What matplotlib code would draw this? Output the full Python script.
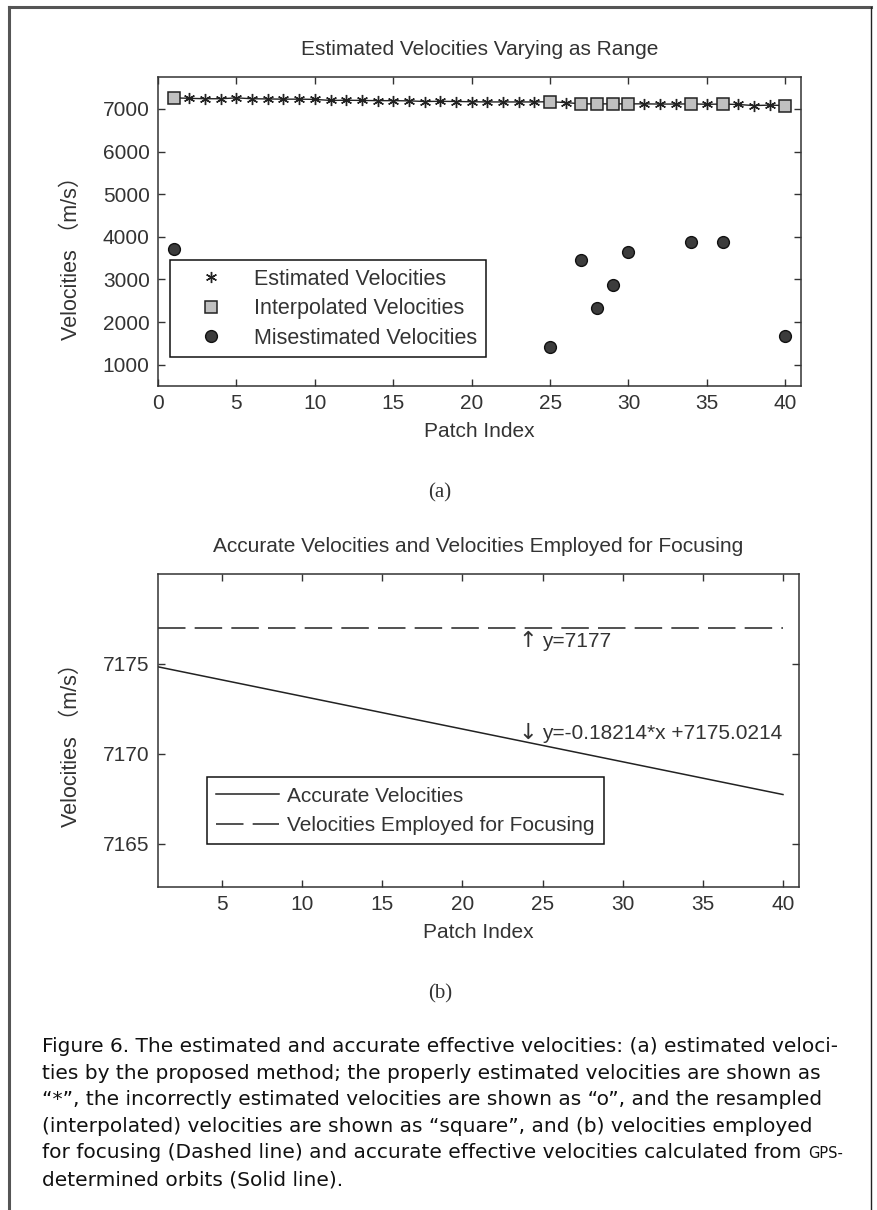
import numpy as np
import matplotlib.pyplot as plt
from matplotlib.lines import Line2D

plt.rcParams['font.family'] = ['Liberation Sans', 'Noto Sans CJK SC', 'DejaVu Sans']

# (a) estimated velocities per patch (after replacing wrong ones by interpolation)
patch = np.arange(1, 41)
velocities = [7260, 7250, 7240, 7240, 7260, 7240, 7235, 7230, 7230, 7225,
              7200, 7205, 7200, 7195, 7195, 7190, 7175, 7180, 7175, 7170,
              7165, 7165, 7165, 7165, 7170, 7150, 7120, 7120, 7120, 7120,
              7120, 7115, 7115, 7120, 7110, 7115, 7105, 7080, 7090, 7080]
interp_idx = [1, 25, 27, 28, 29, 30, 34, 36, 40]
mis_v = [3720, 1405, 3445, 2330, 2860, 3650, 3875, 3875, 1680]

# (b) accurate vs. focusing velocities
acc_x = [1, 40]
acc_v = [7174.84, 7167.74]
focus_x = [1, 40]
focus_v = [7177, 7177]

W, H = 878, 1210
fig = plt.figure(figsize=(W / 100, H / 100), dpi=100)


def fx(px):
    return px / W


def fy(py):
    return 1 - py / H


def style_axes(ax):
    for s in ax.spines.values():
        s.set_color('#333333')
        s.set_linewidth(1.1)
    ax.tick_params(direction='in', top=True, right=True, length=5, width=1,
                   labelsize=15, colors='#333333', pad=6)


# ---- panel (a)
ax1 = fig.add_axes([fx(158), fy(386), fx(801 - 158), (386 - 77) / H])
style_axes(ax1)
est_idx = [i for i in patch if i not in interp_idx]
vel = dict(zip(patch, velocities))
ax1.plot(patch, velocities, '-', color='#222222', lw=1.0)
ax1.plot(est_idx, [vel[i] for i in est_idx], ls='none', marker=(6, 2, 0),
         ms=8, mec='#222222', mew=1.0, label='Estimated Velocities')
ax1.plot(interp_idx, [vel[i] for i in interp_idx], ls='none', marker='s',
         ms=8, mfc='#c0c0c0', mec='#222222', mew=1.1, label='Interpolated Velocities')
ax1.plot(interp_idx, mis_v, ls='none', marker='o', ms=8.5, mfc='#3c3c3c',
         mec='#111111', mew=1.0, label='Misestimated Velocities')
ax1.set_xlim(0, 41)
ax1.set_ylim(500, 7750)
ax1.set_xticks(range(0, 41, 5))
ax1.set_yticks(range(1000, 7001, 1000))
ax1.set_title('Estimated Velocities Varying as Range', fontsize=15, color='#333333', pad=16)
ax1.set_xlabel('Patch Index', fontsize=15, color='#333333', labelpad=6)
ax1.set_ylabel('Velocities （m/s）', fontsize=15.5, color='#333333')
ax1.yaxis.set_label_coords(-0.118, 0.43)
leg1 = ax1.legend(loc='upper left', bbox_to_anchor=(0.0187, 0.408), fontsize=15.5,
                  frameon=True, fancybox=False, framealpha=1, edgecolor='#111111',
                  handlelength=3, handletextpad=0.5, borderpad=0.4,
                  labelspacing=0.4, borderaxespad=0)
leg1.get_frame().set_linewidth(1.1)
for t in leg1.get_texts():
    t.set_color('#333333')

fig.text(fx(440), fy(493), '(a)', ha='center', va='center', fontsize=15,
         family=['Liberation Serif', 'DejaVu Serif'], color='#333333')

# ---- panel (b)
ax2 = fig.add_axes([fx(158), fy(887), fx(799 - 158), (887 - 574) / H])
style_axes(ax2)
ax2.plot(acc_x, acc_v, '-', color='#222222', lw=1.1, label='Accurate Velocities')
ax2.plot(focus_x, focus_v, color='#222222', lw=1.1, dashes=(18, 6),
         label='Velocities Employed for Focusing')
ax2.set_xlim(1, 41)
ax2.set_ylim(7162.6, 7180)
ax2.set_xticks(range(5, 41, 5))
ax2.set_yticks([7165, 7170, 7175])
ax2.set_title('Accurate Velocities and Velocities Employed for Focusing', fontsize=15,
              color='#333333', pad=16)
ax2.set_xlabel('Patch Index', fontsize=15, color='#333333', labelpad=6)
ax2.set_ylabel('Velocities （m/s）', fontsize=15.5, color='#333333')
ax2.yaxis.set_label_coords(-0.118, 0.47)
for yv, label, arrow in [(7176.25, 'y=7177', '↑'),
                         (7171.15, 'y=-0.18214*x +7175.0214', '↓')]:
    ax2.text(24.1, yv, arrow, fontsize=16, va='center', ha='center',
             color='#333333', family=['DejaVu Sans'])
    ax2.text(24.95, yv, label, fontsize=15, va='center', ha='left',
             color='#333333')
leg2 = ax2.legend(loc='upper left', bbox_to_anchor=(0.0764, 0.351), fontsize=15,
                  frameon=True, fancybox=False, framealpha=1, edgecolor='#111111',
                  handlelength=3, handletextpad=0.4, borderpad=0.45,
                  labelspacing=0.5, borderaxespad=0)
leg2.get_frame().set_linewidth(1.1)
for t in leg2.get_texts():
    t.set_color('#333333')

fig.text(fx(440), fy(994), '(b)', ha='center', va='center', fontsize=15,
         family=['Liberation Serif', 'DejaVu Serif'], color='#333333')

# ---- caption
caption = [
    'Figure 6. The estimated and accurate effective velocities: (a) estimated veloci-',
    'ties by the proposed method; the properly estimated velocities are shown as',
    '“*”, the incorrectly estimated velocities are shown as “o”, and the resampled',
    '(interpolated) velocities are shown as “square”, and (b) velocities employed',
    'for focusing (Dashed line) and accurate effective velocities calculated from ',
    'determined orbits (Solid line).',
]
cap_texts = []
for i, line in enumerate(caption):
    t = fig.text(fx(42), fy(1052 + i * 26.6), line, ha='left', va='baseline',
                 fontsize=14.5, color='#111111', family=['DejaVu Sans'])
    cap_texts.append(t)
gps = fig.text(0, 0, 'GPS-', fontsize=10.5, color='#111111', ha='left',
               va='baseline', family=['DejaVu Sans'])
fig.canvas.draw()
bb = cap_texts[4].get_window_extent()
gps.set_position((bb.x1 / W, fy(1052 + 4 * 26.6)))

# ---- outer frame
fig.add_artist(Line2D([fx(9), fx(871)], [fy(7), fy(7)], color='#555555', lw=2.2))
fig.add_artist(Line2D([fx(9), fx(9)], [fy(7), 0], color='#555555', lw=2.2))
fig.add_artist(Line2D([fx(871), fx(871)], [fy(7), 0], color='#222222', lw=1.0))

fig.savefig('out.png', dpi=100)
